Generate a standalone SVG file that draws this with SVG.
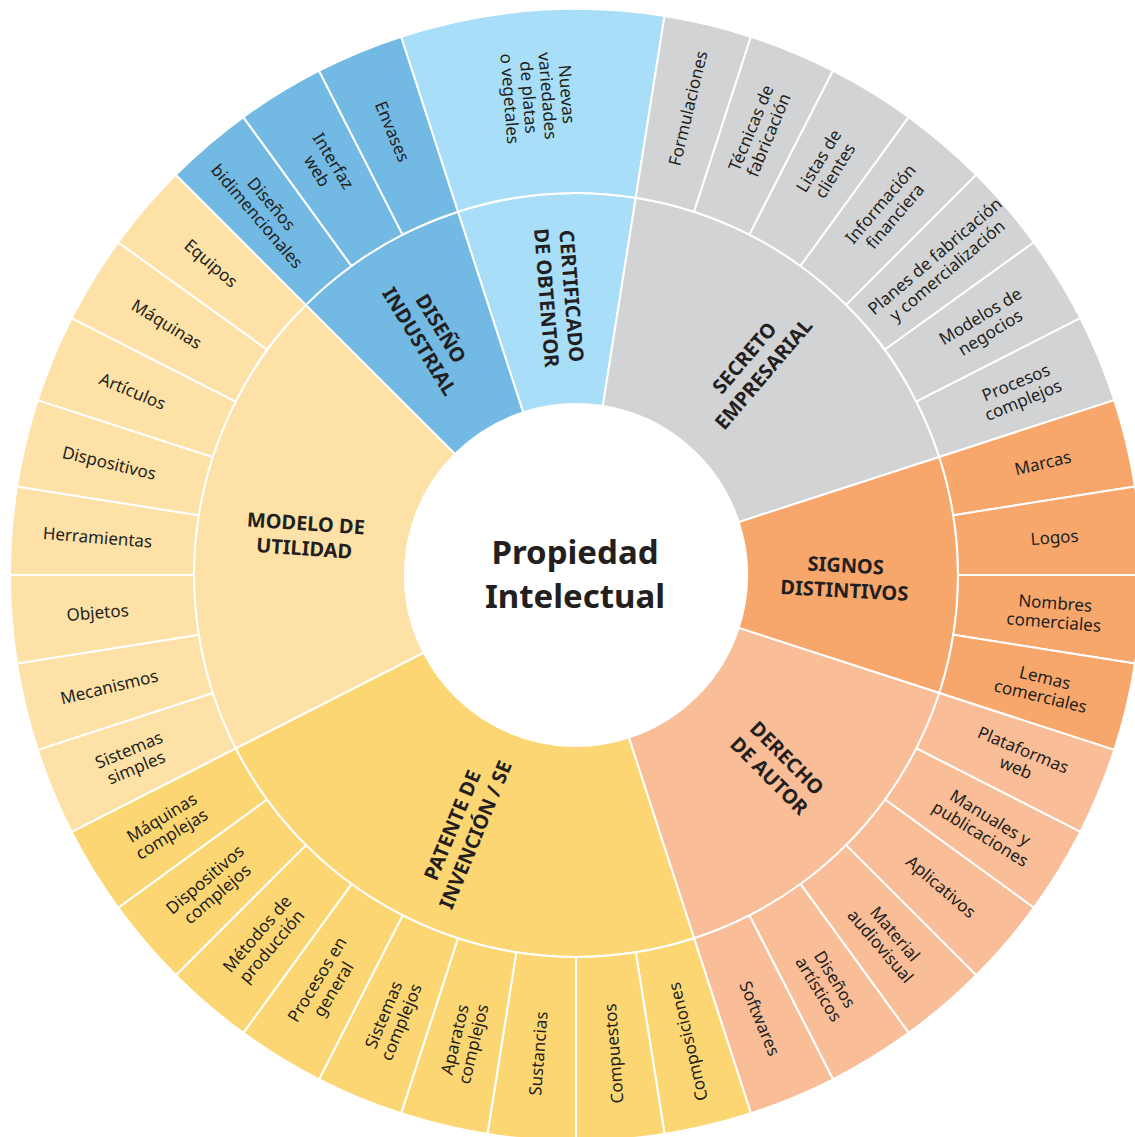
<svg xmlns="http://www.w3.org/2000/svg" width="1135" height="1137" viewBox="0 0 1135 1137">
<style>
.w{stroke:#fff;stroke-width:2;stroke-linejoin:round}
.c1{fill:#A8DEF8}.c2{fill:#72B9E4}.c3{fill:#D2D3D5}.c4{fill:#F7A76C}.c5{fill:#F9BD97}.c6{fill:#FDD674}.c7{fill:#FDE1A6}
text{fill:#231F20;font-family:"Noto Sans","DejaVu Sans",sans-serif;text-anchor:middle}
.l{font-size:17px}
.k{font-size:20px;font-weight:700}
.t{font-size:33px;font-weight:700}
</style>
<rect width="1135" height="1137" fill="#fff"/>

<g id="certificado-de-obtentor">
<path class="w c1" d="M457.95,211.70 A382,382 0 0 1 635.76,197.70 L602.75,406.11 A171,171 0 0 0 523.16,412.37 Z"/>
<text class="k" transform="translate(559,297) rotate(85.5)"><tspan x="0" y="-5.5">CERTIFICADO</tspan><tspan x="0" y="19.5">DE OBTENTOR</tspan></text>
<g id="leaf-nuevas-variedades">
<path class="w c1" d="M401.09,36.70 A566,566 0 0 1 664.54,15.97 L635.76,197.70 A382,382 0 0 0 457.95,211.70 Z"/>
<text class="l" transform="translate(538.3,96.5) rotate(85.5)"><tspan x="0" y="-22.5">Nuevas</tspan><tspan x="0" y="-3.5">variedades</tspan><tspan x="0" y="15.5">de platas</tspan><tspan x="0" y="34.5">o vegetales</tspan></text>
</g>
</g>

<g id="secreto-empresarial">
<path class="w c3" d="M635.76,197.70 A382,382 0 0 1 939.30,456.95 L738.63,522.16 A171,171 0 0 0 602.75,406.11 Z"/>
<text class="k" transform="translate(754,366) rotate(-49.5)"><tspan x="0" y="-5.5">SECRETO</tspan><tspan x="0" y="19.5">EMPRESARIAL</tspan></text>
<g id="leaf-formulaciones"><path class="w c3" d="M664.54,15.97 A566,566 0 0 1 750.91,36.70 L694.05,211.70 A382,382 0 0 0 635.76,197.70 Z"/>
<text class="l" transform="translate(688,108.3) rotate(-76.5)" y="6">Formulaciones</text></g>
<g id="leaf-tecnicas"><path class="w c3" d="M750.91,36.70 A566,566 0 0 1 832.96,70.69 L749.42,234.63 A382,382 0 0 0 694.05,211.70 Z"/>
<text class="l" transform="translate(759.7,131.5) rotate(-67.5)"><tspan x="0" y="-3.5">Técnicas de</tspan><tspan x="0" y="15.5">fabricación</tspan></text></g>
<g id="leaf-listas"><path class="w c3" d="M832.96,70.69 A566,566 0 0 1 908.69,117.09 L800.54,265.95 A382,382 0 0 0 749.42,234.63 Z"/>
<text class="l" transform="translate(826.8,165.8) rotate(-58.5)"><tspan x="0" y="-3.5">Listas de</tspan><tspan x="0" y="15.5">clientes</tspan></text></g>
<g id="leaf-informacion"><path class="w c3" d="M908.69,117.09 A566,566 0 0 1 976.22,174.78 L846.12,304.88 A382,382 0 0 0 800.54,265.95 Z"/>
<text class="l" transform="translate(887.7,210) rotate(-49.5)"><tspan x="0" y="-3.5">Información</tspan><tspan x="0" y="15.5">financiera</tspan></text></g>
<g id="leaf-planes"><path class="w c3" d="M976.22,174.78 A566,566 0 0 1 1033.91,242.31 L885.05,349.46 A382,382 0 0 0 846.12,304.88 Z"/>
<text class="l" transform="translate(941,263.3) rotate(-40.5)"><tspan x="0" y="-3.5">Planes de fabricación</tspan><tspan x="0" y="15.5">y comercialización</tspan></text></g>
<g id="leaf-modelos"><path class="w c3" d="M1033.91,242.31 A566,566 0 0 1 1080.31,318.04 L916.37,401.58 A382,382 0 0 0 885.05,349.46 Z"/>
<text class="l" transform="translate(985.3,324.2) rotate(-31.5)"><tspan x="0" y="-3.5">Modelos de</tspan><tspan x="0" y="15.5">negocios</tspan></text></g>
<g id="leaf-procesos-complejos"><path class="w c3" d="M1080.31,318.04 A566,566 0 0 1 1114.30,400.09 L939.30,456.95 A382,382 0 0 0 916.37,401.58 Z"/>
<text class="l" transform="translate(1019.5,391.3) rotate(-22.5)"><tspan x="0" y="-3.5">Procesos</tspan><tspan x="0" y="15.5">complejos</tspan></text></g>
</g>

<g id="signos-distintivos">
<path class="w c4" d="M939.30,456.95 A382,382 0 0 1 939.30,693.05 L738.63,627.84 A171,171 0 0 0 738.63,522.16 Z"/>
<text class="k" transform="translate(845,578) rotate(3)"><tspan x="0" y="-5.5">SIGNOS</tspan><tspan x="0" y="19.5">DISTINTIVOS</tspan></text>
<g id="leaf-marcas"><path class="w c4" d="M1114.30,400.09 A566,566 0 0 1 1135.03,486.46 L953.30,515.24 A382,382 0 0 0 939.30,456.95 Z"/>
<text class="l" transform="translate(1042.8,463) rotate(-13.5)" y="6">Marcas</text></g>
<g id="leaf-logos"><path class="w c4" d="M1135.03,486.46 A566,566 0 0 1 1142,575 L958,575 A382,382 0 0 0 953.30,515.24 Z"/>
<text class="l" transform="translate(1054.5,537.4) rotate(-4.5)" y="6">Logos</text></g>
<g id="leaf-nombres"><path class="w c4" d="M1142,575 A566,566 0 0 1 1135.03,663.54 L953.30,634.76 A382,382 0 0 0 958,575 Z"/>
<text class="l" transform="translate(1054.5,612.6) rotate(4.5)"><tspan x="0" y="-3.5">Nombres</tspan><tspan x="0" y="15.5">comerciales</tspan></text></g>
<g id="leaf-lemas"><path class="w c4" d="M1135.03,663.54 A566,566 0 0 1 1114.30,749.91 L939.30,693.05 A382,382 0 0 0 953.30,634.76 Z"/>
<text class="l" transform="translate(1042.8,687) rotate(13.5)"><tspan x="0" y="-3.5">Lemas</tspan><tspan x="0" y="15.5">comerciales</tspan></text></g>
</g>

<g id="derecho-de-autor">
<path class="w c5" d="M939.30,693.05 A382,382 0 0 1 694.05,938.30 L628.84,737.63 A171,171 0 0 0 738.63,627.84 Z"/>
<text class="k" transform="translate(778,767) rotate(45)"><tspan x="0" y="-5.5">DERECHO</tspan><tspan x="0" y="19.5">DE AUTOR</tspan></text>
<g id="leaf-plataformas"><path class="w c5" d="M1114.30,749.91 A566,566 0 0 1 1080.31,831.96 L916.37,748.42 A382,382 0 0 0 939.30,693.05 Z"/>
<text class="l" transform="translate(1019.5,758.7) rotate(22.5)"><tspan x="0" y="-3.5">Plataformas</tspan><tspan x="0" y="15.5">web</tspan></text></g>
<g id="leaf-manuales"><path class="w c5" d="M1080.31,831.96 A566,566 0 0 1 1033.91,907.69 L885.05,799.54 A382,382 0 0 0 916.37,748.42 Z"/>
<text class="l" transform="translate(985.3,825.8) rotate(31.5)"><tspan x="0" y="-3.5">Manuales y</tspan><tspan x="0" y="15.5">publicaciones</tspan></text></g>
<g id="leaf-aplicativos"><path class="w c5" d="M1033.91,907.69 A566,566 0 0 1 976.22,975.22 L846.12,845.12 A382,382 0 0 0 885.05,799.54 Z"/>
<text class="l" transform="translate(941,886.7) rotate(40.5)" y="6">Aplicativos</text></g>
<g id="leaf-material"><path class="w c5" d="M976.22,975.22 A566,566 0 0 1 908.69,1032.91 L800.54,884.05 A382,382 0 0 0 846.12,845.12 Z"/>
<text class="l" transform="translate(887.7,940) rotate(49.5)"><tspan x="0" y="-3.5">Material</tspan><tspan x="0" y="15.5">audiovisual</tspan></text></g>
<g id="leaf-disenos-artisticos"><path class="w c5" d="M908.69,1032.91 A566,566 0 0 1 832.96,1079.31 L749.42,915.37 A382,382 0 0 0 800.54,884.05 Z"/>
<text class="l" transform="translate(826.8,984.3) rotate(58.5)"><tspan x="0" y="-3.5">Diseños</tspan><tspan x="0" y="15.5">artísticos</tspan></text></g>
<g id="leaf-softwares"><path class="w c5" d="M832.96,1079.31 A566,566 0 0 1 750.91,1113.30 L694.05,938.30 A382,382 0 0 0 749.42,915.37 Z"/>
<text class="l" transform="translate(759.7,1018.5) rotate(67.5)" y="6">Softwares</text></g>
</g>

<g id="patente-de-invencion">
<path class="w c6" d="M694.05,938.30 A382,382 0 0 1 235.63,748.42 L423.64,652.63 A171,171 0 0 0 628.84,737.63 Z"/>
<text class="k" transform="translate(464,830) rotate(-67.5)"><tspan x="0" y="-5.5">PATENTE DE</tspan><tspan x="0" y="19.5">INVENCIÓN / SE</tspan></text>
<g id="leaf-composiciones"><path class="w c6" d="M750.91,1113.30 A566,566 0 0 1 664.54,1134.03 L635.76,952.30 A382,382 0 0 0 694.05,938.30 Z"/>
<text class="l" transform="translate(688,1041.8) rotate(-103.5)" y="6">Composiciones</text></g>
<g id="leaf-compuestos"><path class="w c6" d="M664.54,1134.03 A566,566 0 0 1 576,1141 L576,957 A382,382 0 0 0 635.76,952.30 Z"/>
<text class="l" transform="translate(613.7,1053.5) rotate(-94.5)" y="6">Compuestos</text></g>
<g id="leaf-sustancias"><path class="w c6" d="M576,1141 A566,566 0 0 1 487.46,1134.03 L516.24,952.30 A382,382 0 0 0 576,957 Z"/>
<text class="l" transform="translate(538.3,1053.5) rotate(-85.5)" y="6">Sustancias</text></g>
<g id="leaf-aparatos"><path class="w c6" d="M487.46,1134.03 A566,566 0 0 1 401.09,1113.30 L457.95,938.30 A382,382 0 0 0 516.24,952.30 Z"/>
<text class="l" transform="translate(464,1041.8) rotate(-76.5)"><tspan x="0" y="-3.5">Aparatos</tspan><tspan x="0" y="15.5">complejos</tspan></text></g>
<g id="leaf-sistemas-complejos"><path class="w c6" d="M401.09,1113.30 A566,566 0 0 1 319.04,1079.31 L402.58,915.37 A382,382 0 0 0 457.95,938.30 Z"/>
<text class="l" transform="translate(392.3,1018.5) rotate(-67.5)"><tspan x="0" y="-3.5">Sistemas</tspan><tspan x="0" y="15.5">complejos</tspan></text></g>
<g id="leaf-procesos-general"><path class="w c6" d="M319.04,1079.31 A566,566 0 0 1 243.31,1032.91 L351.46,884.05 A382,382 0 0 0 402.58,915.37 Z"/>
<text class="l" transform="translate(325.2,984.3) rotate(-58.5)"><tspan x="0" y="-3.5">Procesos en</tspan><tspan x="0" y="15.5">general</tspan></text></g>
<g id="leaf-metodos"><path class="w c6" d="M243.31,1032.91 A566,566 0 0 1 175.78,975.22 L305.88,845.12 A382,382 0 0 0 351.46,884.05 Z"/>
<text class="l" transform="translate(264.3,940) rotate(-49.5)"><tspan x="0" y="-3.5">Métodos de</tspan><tspan x="0" y="15.5">producción</tspan></text></g>
<g id="leaf-dispositivos-complejos"><path class="w c6" d="M175.78,975.22 A566,566 0 0 1 118.09,907.69 L266.95,799.54 A382,382 0 0 0 305.88,845.12 Z"/>
<text class="l" transform="translate(211,886.7) rotate(-40.5)"><tspan x="0" y="-3.5">Dispositivos</tspan><tspan x="0" y="15.5">complejos</tspan></text></g>
<g id="leaf-maquinas-complejas"><path class="w c6" d="M118.09,907.69 A566,566 0 0 1 71.69,831.96 L235.63,748.42 A382,382 0 0 0 266.95,799.54 Z"/>
<text class="l" transform="translate(166.7,825.8) rotate(-31.5)"><tspan x="0" y="-3.5">Máquinas</tspan><tspan x="0" y="15.5">complejas</tspan></text></g>
</g>

<g id="modelo-de-utilidad">
<path class="w c7" d="M235.63,748.42 A382,382 0 0 1 305.88,304.88 L455.08,454.08 A171,171 0 0 0 423.64,652.63 Z"/>
<text class="k" transform="translate(305,536) rotate(4)"><tspan x="0" y="-5.5">MODELO DE</tspan><tspan x="0" y="19.5">UTILIDAD</tspan></text>
<g id="leaf-sistemas-simples"><path class="w c7" d="M71.69,831.96 A566,566 0 0 1 37.70,749.91 L212.70,693.05 A382,382 0 0 0 235.63,748.42 Z"/>
<text class="l" transform="translate(132.5,758.7) rotate(-22.5)"><tspan x="0" y="-3.5">Sistemas</tspan><tspan x="0" y="15.5">simples</tspan></text></g>
<g id="leaf-mecanismos"><path class="w c7" d="M37.70,749.91 A566,566 0 0 1 16.97,663.54 L198.70,634.76 A382,382 0 0 0 212.70,693.05 Z"/>
<text class="l" transform="translate(109.2,687) rotate(-13.5)" y="6">Mecanismos</text></g>
<g id="leaf-objetos"><path class="w c7" d="M16.97,663.54 A566,566 0 0 1 10,575 L194,575 A382,382 0 0 0 198.70,634.76 Z"/>
<text class="l" transform="translate(97.5,612.6) rotate(-4.5)" y="6">Objetos</text></g>
<g id="leaf-herramientas"><path class="w c7" d="M10,575 A566,566 0 0 1 16.97,486.46 L198.70,515.24 A382,382 0 0 0 194,575 Z"/>
<text class="l" transform="translate(97.5,537.4) rotate(4.5)" y="6">Herramientas</text></g>
<g id="leaf-dispositivos"><path class="w c7" d="M16.97,486.46 A566,566 0 0 1 37.70,400.09 L212.70,456.95 A382,382 0 0 0 198.70,515.24 Z"/>
<text class="l" transform="translate(109.2,463) rotate(13.5)" y="6">Dispositivos</text></g>
<g id="leaf-articulos"><path class="w c7" d="M37.70,400.09 A566,566 0 0 1 71.69,318.04 L235.63,401.58 A382,382 0 0 0 212.70,456.95 Z"/>
<text class="l" transform="translate(132.5,391.3) rotate(22.5)" y="6">Artículos</text></g>
<g id="leaf-maquinas"><path class="w c7" d="M71.69,318.04 A566,566 0 0 1 118.09,242.31 L266.95,349.46 A382,382 0 0 0 235.63,401.58 Z"/>
<text class="l" transform="translate(166.7,324.2) rotate(31.5)" y="6">Máquinas</text></g>
<g id="leaf-equipos"><path class="w c7" d="M118.09,242.31 A566,566 0 0 1 175.78,174.78 L305.88,304.88 A382,382 0 0 0 266.95,349.46 Z"/>
<text class="l" transform="translate(211,263.3) rotate(40.5)" y="6">Equipos</text></g>
</g>

<g id="diseno-industrial">
<path class="w c2" d="M305.88,304.88 A382,382 0 0 1 457.95,211.70 L523.16,412.37 A171,171 0 0 0 455.08,454.08 Z"/>
<text class="k" transform="translate(430,335) rotate(58.5)"><tspan x="0" y="-5.5">DISEÑO</tspan><tspan x="0" y="19.5">INDUSTRIAL</tspan></text>
<g id="leaf-disenos-bidimencionales"><path class="w c2" d="M175.78,174.78 A566,566 0 0 1 243.31,117.09 L351.46,265.95 A382,382 0 0 0 305.88,304.88 Z"/>
<text class="l" transform="translate(264.3,210) rotate(49.5)"><tspan x="0" y="-3.5">Diseños</tspan><tspan x="0" y="15.5">bidimencionales</tspan></text></g>
<g id="leaf-interfaz"><path class="w c2" d="M243.31,117.09 A566,566 0 0 1 319.04,70.69 L402.58,234.63 A382,382 0 0 0 351.46,265.95 Z"/>
<text class="l" transform="translate(325.2,165.8) rotate(58.5)"><tspan x="0" y="-3.5">Interfaz</tspan><tspan x="0" y="15.5">web</tspan></text></g>
<g id="leaf-envases"><path class="w c2" d="M319.04,70.69 A566,566 0 0 1 401.09,36.70 L457.95,211.70 A382,382 0 0 0 402.58,234.63 Z"/>
<text class="l" transform="translate(392.3,131.5) rotate(67.5)" y="6">Envases</text></g>
</g>

<g id="propiedad-intelectual">
<circle cx="576" cy="575" r="170" fill="#fff"/>
<text class="t" x="575" y="564">Propiedad</text>
<text class="t" x="575" y="608">Intelectual</text>
</g>
<g id="connectors"/>
</svg>
